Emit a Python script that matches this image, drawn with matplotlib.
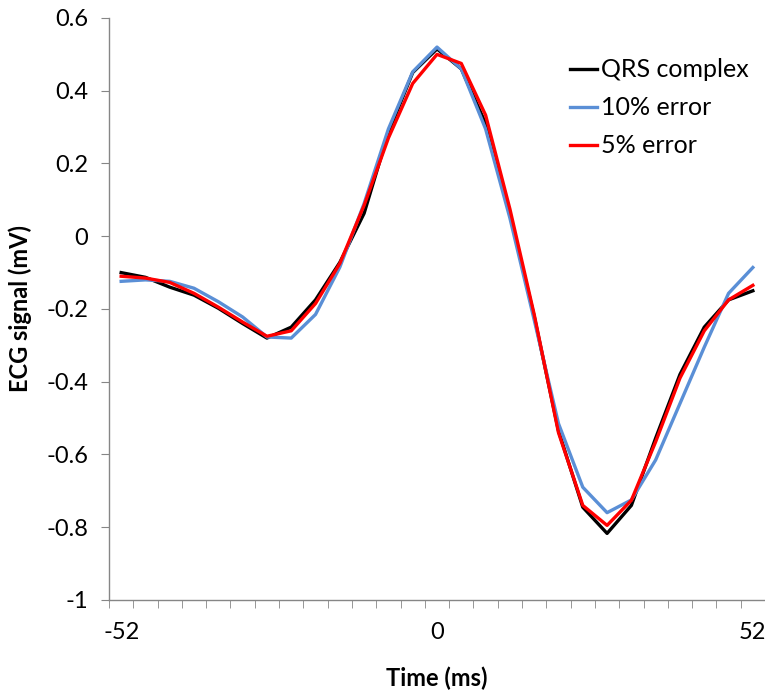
import numpy as np
import matplotlib.pyplot as plt
from matplotlib.ticker import FixedLocator

plt.rcParams['font.family'] = ['Lato', 'DejaVu Sans']
plt.rcParams['axes.unicode_minus'] = False

# time samples every 4 ms around the R peak
t = np.arange(-52, 53, 4)

qrs = [-0.100, -0.113, -0.140, -0.162, -0.198, -0.240, -0.280, -0.250, -0.175,
       -0.072, 0.063, 0.285, 0.450, 0.515, 0.460, 0.310, 0.060, -0.220,
       -0.535, -0.745, -0.817, -0.740, -0.555, -0.380, -0.250, -0.175, -0.150]
err10 = [-0.124, -0.120, -0.124, -0.143, -0.180, -0.222, -0.277, -0.280, -0.215,
         -0.085, 0.090, 0.295, 0.452, 0.520, 0.460, 0.295, 0.050, -0.230,
         -0.515, -0.690, -0.760, -0.725, -0.615, -0.460, -0.305, -0.157, -0.086]
err5 = [-0.110, -0.115, -0.127, -0.157, -0.195, -0.236, -0.275, -0.260, -0.185,
        -0.075, 0.085, 0.270, 0.420, 0.500, 0.475, 0.333, 0.075, -0.215,
        -0.540, -0.740, -0.795, -0.726, -0.565, -0.390, -0.260, -0.175, -0.135]

yticks = [0.6, 0.4, 0.2, 0, -0.2, -0.4, -0.6, -0.8, -1]
ytick_labels = ['0.6', '0.4', '0.2', '0', '-0.2', '-0.4', '-0.6', '-0.8', '-1']
xticks = [-52, 0, 52]

fig = plt.figure(figsize=(7.65, 6.92), dpi=100)
ax = fig.add_axes([0.1425, 0.133, 0.8575, 0.841])

ax.plot(t, qrs, color='black', lw=2.4, label='QRS complex')
ax.plot(t, err10, color='#5A8FD6', lw=2.4, label='10% error')
ax.plot(t, err5, color='#FF0000', lw=2.4, label='5% error')

ax.set_xlim(-54, 54)
ax.set_ylim(-1, 0.6)

grey = '#868686'
for s in ['top', 'right']:
    ax.spines[s].set_visible(False)
for s in ['left', 'bottom']:
    ax.spines[s].set_color(grey)
    ax.spines[s].set_linewidth(1.0)

ax.set_yticks(yticks)
ax.set_yticklabels(ytick_labels)
ax.set_xticks(xticks)
ax.set_xticklabels([str(v) for v in xticks])
ax.xaxis.set_minor_locator(FixedLocator(np.arange(-54, 55, 4)))
ax.tick_params(axis='x', which='major', length=0, pad=16, labelsize=17)
ax.tick_params(axis='x', which='minor', length=6, color=grey, direction='out')
ax.tick_params(axis='y', length=6, color=grey, direction='out', pad=9, labelsize=17)

ax.set_xlabel('Time (ms)', fontsize=17, fontweight='bold', labelpad=17)
ax.set_ylabel('ECG signal (mV)', fontsize=17, fontweight='bold', labelpad=10)

ax.legend(loc='upper left', bbox_to_anchor=(0.732, 0.93), bbox_transform=fig.transFigure,
          borderaxespad=0, frameon=False, fontsize=18, handlelength=1.1,
          handletextpad=0.15, labelspacing=0.6)

fig.savefig('out.png', dpi=100)
